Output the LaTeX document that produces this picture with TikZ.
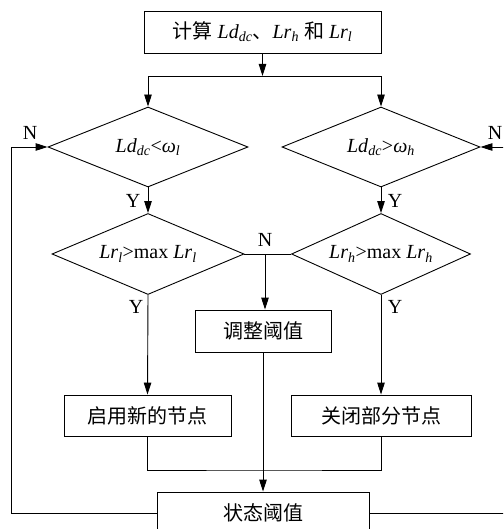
\documentclass[tikz,border=0pt]{standalone}
\usepackage{fontspec}
\setmainfont{Liberation Serif}
\newfontfamily\cjk{Noto Sans CJK SC}
\usetikzlibrary{shapes.geometric,arrows.meta}
\newcommand{\isub}[1]{\textsubscript{\textit{#1}}}

\begin{document}
\begin{tikzpicture}[x=1pt, y=-1pt,
    box/.style={draw, line width=0.9pt, inner sep=0pt},
    choice/.style={draw, diamond, aspect=2.4, line width=0.9pt, inner sep=0pt},
    line/.style={line width=0.9pt},
    arr/.style={line width=0.9pt, -{Triangle[length=12pt,width=7.5pt]}},
    font=\fontsize{20}{24}\selectfont]
    \useasboundingbox (0,0) rectangle (503,529);
    \clip (0,0) rectangle (503,529);

    % Boxes and decisions
    \node[box, minimum width=237pt, minimum height=42pt] (calc) at (262.5,32)
        {{\cjk 计算} \textit{Ld}\isub{dc}{\cjk 、}\textit{Lr}\isub{h} {\cjk 和} \textit{Lr}\isub{l}};
    \node[choice, minimum width=200pt, minimum height=80pt] (dl) at (148,147)
        {\textit{Ld}\isub{dc}<\textit{ω}\isub{l}};
    \node[choice, minimum width=198pt, minimum height=80pt] (dh) at (381,147)
        {\textit{Ld}\isub{dc}>\textit{ω}\isub{h}};
    \node[choice, minimum width=192pt, minimum height=81pt] (rl) at (148,254)
        {\textit{Lr}\isub{l}>max \textit{Lr}\isub{l}};
    \node[choice, minimum width=179pt, minimum height=81pt] (rh) at (381,254)
        {\textit{Lr}\isub{h}>max \textit{Lr}\isub{h}};
    \node[box, minimum width=136pt, minimum height=42pt] (adj) at (263,331) {\cjk 调整阈值};
    \node[box, minimum width=167pt, minimum height=41pt] (on) at (147.5,415.5) {\cjk 启用新的节点};
    \node[box, minimum width=180pt, minimum height=41pt] (off) at (381,415.5) {\cjk 关闭部分节点};
    \node[box, minimum width=212pt, minimum height=42pt] (state) at (263,513) {\cjk 状态阈值};

    % Branch labels
    \node (ya) at (133,201) {Y};
    \node (yb) at (395,201) {Y};
    \node (yc) at (136,307) {Y};
    \node (yd) at (395,307) {Y};
    \node (nmid) at (265,240) {N};
    \node (nl) at (30,133) {N};
    \node (nr) at (495,133) {N};

    % Connectors
    \coordinate (split) at (262.5,76);
    \draw[arr] (calc.south) -- (split);
    \draw[arr] (split) -| (dl.north);
    \draw[arr] (split) -| (dh.north);
    \draw[arr] (dl.south) -- (rl.north);
    \draw[arr] (dh.south) -- (rh.north);
    \draw[line] (rl.east) -- (rh.west);
    \coordinate (mid) at (265,254);
    \draw[arr] (mid) -- (mid |- adj.north);
    \draw[arr] (rl.south) -- (on.north);
    \draw[arr] (rh.south) -- (off.north);
    \coordinate (join) at (264,470);
    \draw[line] (on.south) |- (join) -| (off.south);
    \draw[arr] (adj.south) -- (state.north);
    \coordinate (lft) at (11,0);
    \coordinate (rgt) at (515,0);
    \draw[arr] (state.west) -- (state.west -| lft) |- (dl.west);
    \draw[arr] (state.east) -- (state.east -| rgt) |- (dh.east);
\end{tikzpicture}
\end{document}
